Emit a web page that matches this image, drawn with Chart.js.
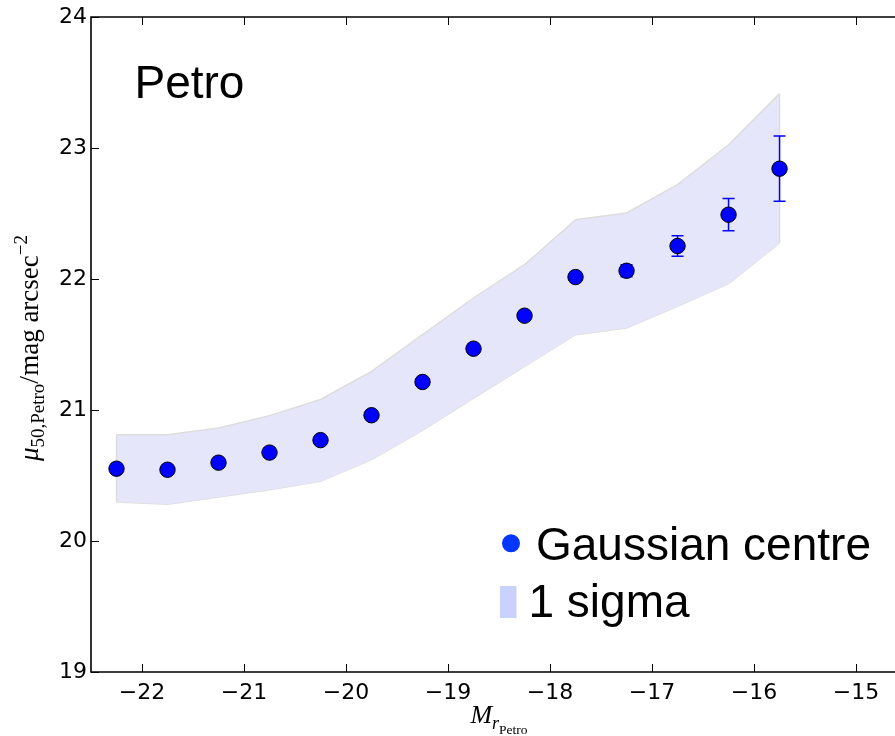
<!DOCTYPE html>
<html><head><meta charset="utf-8">
<script src="https://cdn.jsdelivr.net/npm/chart.js@4/dist/chart.umd.min.js"></script>
<style>html,body{margin:0;padding:0;background:#fff;overflow:hidden;width:895px;height:736px}#c{display:block}</style>
</head><body><canvas id="c" width="903" height="736" style="width:903px;height:736px"></canvas>
<script>
// ---- data ----
const magBins = [-22.25,-21.75,-21.25,-20.75,-20.25,-19.75,-19.25,-18.75,-18.25,-17.75,-17.25,-16.75,-16.25,-15.75];
const gaussCentre = [20.552,20.544,20.598,20.675,20.770,20.960,21.214,21.468,21.720,22.015,22.063,22.252,22.491,22.842];
const gaussErr = [0.01,0.01,0.01,0.01,0.01,0.015,0.015,0.02,0.025,0.035,0.045,0.078,0.123,0.249];
const sigmaUpper = [20.811,20.811,20.863,20.957,21.080,21.295,21.575,21.855,22.109,22.453,22.504,22.720,23.025,23.415];
const sigmaLower = [20.298,20.281,20.336,20.392,20.455,20.621,20.844,21.091,21.333,21.575,21.626,21.791,21.964,22.275];
const xTicks = [-22,-21,-20,-19,-18,-17,-16,-15];
const yTicks = [19,20,21,22,23,24];
const panelLabel = 'Petro';
const legendLabels = ['Gaussian centre','1 sigma'];

const fmt = v => (v < 0 ? '\u2212' + Math.abs(v) : String(v));
const pts = arr => magBins.map((x,i)=>({x:x,y:arr[i]}));

function drawRich(ctx, segs, x, y){
  let total = 0;
  segs.forEach(s=>{ctx.font=s.font; s.w=ctx.measureText(s.t).width; total+=s.w;});
  let cx = x - total/2;
  ctx.textAlign='left'; ctx.textBaseline='alphabetic';
  segs.forEach(s=>{ctx.font=s.font; ctx.fillText(s.t, cx, y+(s.dy||0)); cx+=s.w;});
}

const deco = {
  id:'deco',
  beforeDatasetDraw(chart, args){
    if(args.index!==0) return;
    const ctx=chart.ctx, xs=chart.scales.x, ys=chart.scales.y;
    ctx.save();
    // end edges of the 1-sigma band
    ctx.strokeStyle='#dddddd'; ctx.lineWidth=1.5;
    const last=magBins.length-1;
    ctx.beginPath();
    [0,last].forEach(i=>{const px=xs.getPixelForValue(magBins[i]);
      ctx.moveTo(px,ys.getPixelForValue(sigmaUpper[i])); ctx.lineTo(px,ys.getPixelForValue(sigmaLower[i]));});
    ctx.stroke();
    // error bars
    ctx.strokeStyle='#0000ff'; ctx.lineWidth=1.5;
    magBins.forEach((m,i)=>{
      const px=xs.getPixelForValue(m);
      const y1=ys.getPixelForValue(gaussCentre[i]+gaussErr[i]);
      const y2=ys.getPixelForValue(gaussCentre[i]-gaussErr[i]);
      ctx.beginPath();
      ctx.moveTo(px,y1); ctx.lineTo(px,y2);
      ctx.moveTo(px-6,y1); ctx.lineTo(px+6,y1);
      ctx.moveTo(px-6,y2); ctx.lineTo(px+6,y2);
      ctx.stroke();
    });
    ctx.restore();
  },
  afterDatasetsDraw(chart){
    const ctx=chart.ctx, ca=chart.chartArea, xs=chart.scales.x, ys=chart.scales.y;
    ctx.save();
    ctx.strokeStyle='#000'; ctx.lineWidth=1;
    ctx.beginPath();
    xTicks.forEach(v=>{const p=Math.round(xs.getPixelForValue(v))+0.5;
      ctx.moveTo(p,ca.bottom); ctx.lineTo(p,ca.bottom-8);
      ctx.moveTo(p,ca.top); ctx.lineTo(p,ca.top+8);});
    yTicks.forEach(v=>{const p=Math.round(ys.getPixelForValue(v))+0.5;
      ctx.moveTo(ca.left,p); ctx.lineTo(ca.left+8,p);});
    ctx.stroke();
    // spines: left, bottom, top (right spine lies just outside the frame)
    ctx.lineWidth=1.6;
    ctx.beginPath();
    ctx.moveTo(ca.right+2,ca.top); ctx.lineTo(ca.left,ca.top); ctx.lineTo(ca.left,ca.bottom); ctx.lineTo(ca.right+2,ca.bottom);
    ctx.stroke();
    ctx.restore();
  },
  afterDraw(chart){
    const ctx=chart.ctx, xs=chart.scales.x;
    ctx.save();
    ctx.fillStyle='#000';
    ctx.textAlign='left'; ctx.textBaseline='alphabetic';
    ctx.font='46px "Liberation Sans"';
    ctx.fillText(panelLabel, 134.5, 98);
    // legend
    ctx.fillStyle='#0536ff';
    ctx.beginPath(); ctx.arc(511,543.3,9,0,Math.PI*2); ctx.fill();
    ctx.fillStyle='#c8d2fc';
    ctx.fillRect(500,586,16.5,32);
    ctx.fillStyle='#000';
    ctx.fillText(legendLabels[0], 536, 560);
    ctx.fillText(legendLabels[1], 528.5, 617);
    // x title (centred on the full axis range -22.5 .. -14.5)
    const cx=xs.getPixelForValue(-18.5);
    drawRich(ctx,[
      {t:'M',font:'italic 26px "Liberation Serif"'},
      {t:'r',font:'italic 18px "Liberation Serif"',dy:5.5},
      {t:'Petro',font:'13.5px "Liberation Serif"',dy:10.5}
    ], cx, 723.3);
    // y title
    ctx.translate(38, 348);
    ctx.rotate(-Math.PI/2);
    drawRich(ctx,[
      {t:'\u03bc',font:'italic 27px "Liberation Serif"'},
      {t:'50,Petro',font:'19px "Liberation Serif"',dy:5.5},
      {t:'/',font:'28px "Liberation Serif"'},
      {t:'mag arcsec',font:'27px "Liberation Serif"'},
      {t:'\u22122',font:'19px "Liberation Serif"',dy:-11}
    ], 0, 0);
    ctx.restore();
  }
};

new Chart(document.getElementById('c'),{
  type:'line',
  data:{datasets:[
    {label:legendLabels[0], data:pts(gaussCentre), showLine:false, pointStyle:'circle',
     pointRadius:7.7, pointBackgroundColor:'#0000ff', pointBorderColor:'#000', pointBorderWidth:1, order:0},
    {label:'upper', data:pts(sigmaUpper), borderColor:'#dddddd', borderWidth:1.5, pointRadius:0,
     backgroundColor:'#e6e6fa', fill:'+1', tension:0, order:1},
    {label:'lower', data:pts(sigmaLower), borderColor:'#dddddd', borderWidth:1.5, pointRadius:0,
     fill:false, tension:0, order:2}
  ]},
  options:{
    animation:false, responsive:false, maintainAspectRatio:false, devicePixelRatio:1,
    layout:{padding:{top:17,left:0,right:0,bottom:0}},
    plugins:{legend:{display:false}, tooltip:{enabled:false}},
    scales:{
      x:{type:'linear', min:-22.5, max:-14.625,
        afterBuildTicks:s=>{s.ticks=xTicks.map(v=>({value:v}));},
        afterFit:s=>{s.height=64; s.paddingLeft=0; s.paddingRight=0;},
        ticks:{callback:v=>fmt(v), color:'#000', font:{family:'DejaVu Sans', size:22}, padding:8, maxRotation:0, autoSkip:false},
        grid:{display:false, drawTicks:false}, border:{display:false}},
      y:{type:'linear', min:19, max:24,
        afterBuildTicks:s=>{s.ticks=yTicks.map(v=>({value:v}));},
        afterFit:s=>{s.width=91; s.paddingTop=0; s.paddingBottom=0;},
        ticks:{callback:v=>fmt(v), color:'#000', font:{family:'DejaVu Sans', size:22}, padding:4, autoSkip:false},
        grid:{display:false, drawTicks:false}, border:{display:false}}
    }
  },
  plugins:[deco]
});
</script></body></html>
